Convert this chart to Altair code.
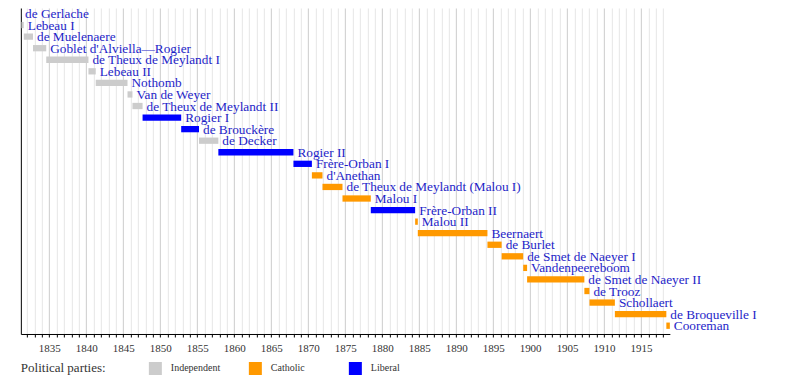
import altair as alt
import pandas as pd

names = [
    "de Gerlache", "Lebeau I", "de Muelenaere", "Goblet d'Alviella—Rogier",
    "de Theux de Meylandt I", "Lebeau II", "Nothomb", "Van de Weyer",
    "de Theux de Meylandt II", "Rogier I", "de Brouckère", "de Decker",
    "Rogier II", "Frère-Orban I", "d'Anethan", "de Theux de Meylandt (Malou I)",
    "Malou I", "Frère-Orban II", "Malou II", "Beernaert", "de Burlet",
    "de Smet de Naeyer I", "Vandenpeereboom", "de Smet de Naeyer II",
    "de Trooz", "Schollaert", "de Broqueville I", "Cooreman",
]
starts = [
    "1831-02-27", "1831-03-28", "1831-07-24", "1832-10-20", "1834-08-04",
    "1840-04-18", "1841-04-13", "1845-07-30", "1846-03-31", "1847-08-12",
    "1852-10-31", "1855-03-30", "1857-11-09", "1868-01-03", "1870-07-02",
    "1871-12-07", "1874-08-21", "1878-06-19", "1884-06-16", "1884-10-26",
    "1894-03-26", "1896-02-25", "1899-01-24", "1899-08-05", "1907-05-02",
    "1908-01-09", "1911-06-17", "1918-06-01",
]
ends = [
    "1831-03-10", "1831-07-21", "1832-10-20", "1834-08-04", "1840-04-18",
    "1841-04-13", "1845-07-30", "1846-03-31", "1847-08-12", "1852-10-31",
    "1855-03-30", "1857-11-09", "1868-01-03", "1870-07-02", "1871-12-07",
    "1874-08-21", "1878-06-19", "1884-06-16", "1884-10-26", "1894-03-26",
    "1896-02-25", "1899-01-24", "1899-08-05", "1907-05-02", "1908-01-09",
    "1911-06-17", "1918-06-01", "1918-11-21",
]
parties = [
    "Independent", "Independent", "Independent", "Independent", "Independent",
    "Independent", "Independent", "Independent", "Independent", "Liberal",
    "Liberal", "Independent", "Liberal", "Liberal", "Catholic",
    "Catholic", "Catholic", "Liberal", "Catholic", "Catholic",
    "Catholic", "Catholic", "Catholic", "Catholic", "Catholic",
    "Catholic", "Catholic", "Catholic",
]
party_names = ["Independent", "Catholic", "Liberal"]
party_colors = ["#cccccc", "#ff9900", "#0000ff"]
period = ["1831-02-27", "1918-11-21"]
tick_years = list(range(1832, 1919))


def frac_year(s):
    d = pd.Timestamp(s)
    n = 366 if d.is_leap_year else 365
    return d.year + (d.dayofyear - 1) / n


df = pd.DataFrame({
    "name": names,
    "start": [frac_year(s) for s in starts],
    "end": [frac_year(s) for s in ends],
    "party": parties,
})

x_dom = [frac_year(period[0]), frac_year(period[1])]

x_axis = alt.Axis(
    values=tick_years,
    labelExpr="datum.value % 5 === 0 ? datum.value : ''",
    grid=True,
    gridColor={"condition": {"test": "datum.value % 5 === 0", "value": "#cccccc"}, "value": "#e6e6e6"},
    gridWidth=1,
    tickColor="black",
    tickSize=3,
    domainColor="black",
    labelFont="Liberation Serif",
    labelFontSize=11,
    labelColor="#333333",
    labelPadding=6,
    labelOverlap=False,
    labelFlush=False,
    title=None,
)
y_axis = alt.Axis(labels=False, ticks=False, title=None, grid=False, domainColor="black")

x_scale = alt.Scale(domain=x_dom, nice=False, zero=False)
y_scale = alt.Scale(domain=names, paddingInner=0.455, paddingOuter=0.324, align=0.313)

base = alt.Chart(df)

bars = base.mark_bar(cornerRadius=0).encode(
    x=alt.X("start:Q", scale=x_scale, axis=x_axis),
    x2="end:Q",
    y=alt.Y("name:N", scale=y_scale, axis=y_axis, sort=names),
    color=alt.Color(
        "party:N",
        scale=alt.Scale(domain=party_names, range=party_colors),
        legend=alt.Legend(
            title="Political parties:",
            orient="none",
            legendX=0,
            legendY=354,
            direction="horizontal",
            titleOrient="left",
            titleFont="Liberation Serif",
            titleFontSize=13,
            titleFontWeight="normal",
            titleColor="#333333",
            titlePadding=43,
            titleBaseline="top",
            titleAnchor="start",
            labelFont="Liberation Serif",
            labelFontSize=10,
            labelColor="#333333",
            symbolType="square",
            symbolSize=169,
            symbolStrokeWidth=0,
            symbolOpacity=1,
            labelOffset=9,
            columnPadding=28,
            gridAlign="all",
            padding=0,
        ),
    ),
)

labels = base.mark_text(
    align="left", baseline="middle", dx=4, dy=0.5,
    font="Liberation Serif", fontSize=13.3, color="#1e1ec8",
).encode(
    x=alt.X("end:Q", scale=x_scale, axis=x_axis),
    y=alt.Y("name:N", scale=y_scale, axis=y_axis, sort=names),
    text="name:N",
)

chart = (
    alt.layer(bars, labels)
    .properties(
        width=649,
        height=326,
        autosize=alt.AutoSizeParams(type="none"),
        padding={"left": 12.85, "top": 0, "right": 122, "bottom": 48},
    )
    .configure_view(stroke=None)
)

chart.save("out.html", embed_options={"renderer": "svg", "actions": False})
